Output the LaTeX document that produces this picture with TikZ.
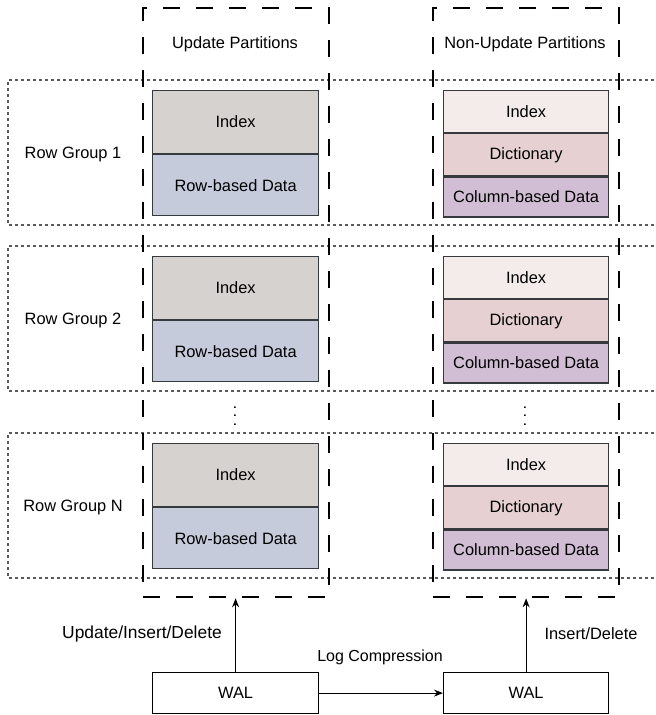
\documentclass[tikz,border=0pt]{standalone}
\usepackage{fontspec}
\setmainfont{Liberation Sans}
\usetikzlibrary{arrows.meta}
\definecolor{idxL}{RGB}{214,210,207}
\definecolor{rowD}{RGB}{197,203,219}
\definecolor{idxR}{RGB}{244,235,235}
\definecolor{dictR}{RGB}{230,208,209}
\definecolor{colR}{RGB}{209,190,213}
\definecolor{cellLine}{RGB}{54,57,61}
\definecolor{dotLine}{RGB}{90,90,90}
\begin{document}
\begin{tikzpicture}[x=1pt,y=-1pt,
  font=\fontsize{16.4}{19}\selectfont,
  rowgrp/.style={draw=dotLine, line width=1.2pt, dash pattern=on 3pt off 3pt},
  partbox/.style={draw=black, line width=2.3pt, dash pattern=on 17pt off 16pt, minimum width=186pt, minimum height=589pt, anchor=north west, inner sep=0pt},
  cell/.style={draw=cellLine, line width=1.2pt, inner sep=0pt, anchor=north west},
  lcell/.style={cell, minimum width=166pt},
  rcell/.style={cell, minimum width=165pt},
  walbox/.style={draw=black, line width=1.2pt, minimum width=166pt, minimum height=41pt, inner sep=0pt, anchor=north west},
  lbl/.style={inner sep=0pt},
  vdts/.style={inner sep=0pt, font=\fontsize{16}{16}\selectfont},
  arr/.style={draw=black, line width=1.2pt, -{Stealth[length=9pt,width=7pt]}}
]
\useasboundingbox (0,0) rectangle (656,715);

\foreach \y/\n in {80/1,246/2,433/N}{
  \draw[rowgrp] (660,\y) -- (8,\y) -- (8,\y+145) -- (660,\y+145);
  \node[lbl] (rg\n) at (73,\y+74) {Row Group \n};
  \node[lcell, fill=idxL, minimum height=63pt] (li\n) at (152,\y+10) {Index};
  \node[lcell, fill=rowD, minimum height=61pt, anchor=north] (lr\n) at (li\n.south) {Row-based Data};
  \node[rcell, fill=idxR, minimum height=42pt] (ri\n) at (443,\y+10) {Index};
  \node[rcell, fill=dictR, minimum height=42pt, anchor=north] (rd\n) at (ri\n.south) {Dictionary};
  \node[rcell, fill=colR, minimum height=40pt, anchor=north] (rc\n) at (rd\n.south) {Column-based Data};
}

\node[vdts] (dotsL) at (235,416) {\rotatebox{-90}{.\hspace{4pt}.\hspace{4pt}.}};
\node[vdts] (dotsR) at (525,416) {\rotatebox{-90}{.\hspace{4pt}.\hspace{4pt}.}};

\node[partbox] (up) at (142,7) {};
\node[partbox] (nup) at (432,7) {};
\node[lbl] (upt) at (235,44) {Update Partitions};
\node[lbl] (nupt) at (525,44) {Non-Update Partitions};

\node[walbox] (wal1) at (152,672) {WAL};
\node[walbox, minimum width=165pt] (wal2) at (443,672) {WAL};

\draw[arr] (wal1) -- (wal1 |- up.south);
\draw[arr] (wal2) -- (wal2 |- nup.south);
\draw[arr] (wal1) -- (wal2);

\node[lbl, font=\fontsize{17.4}{20}\selectfont] (l1) at (142,634) {Update/Insert/Delete};
\node[lbl] (l2) at (591,634) {Insert/Delete};
\node[lbl, font=\fontsize{16}{19}\selectfont] (l3) at (380,657) {Log Compression};
\end{tikzpicture}
\end{document}
